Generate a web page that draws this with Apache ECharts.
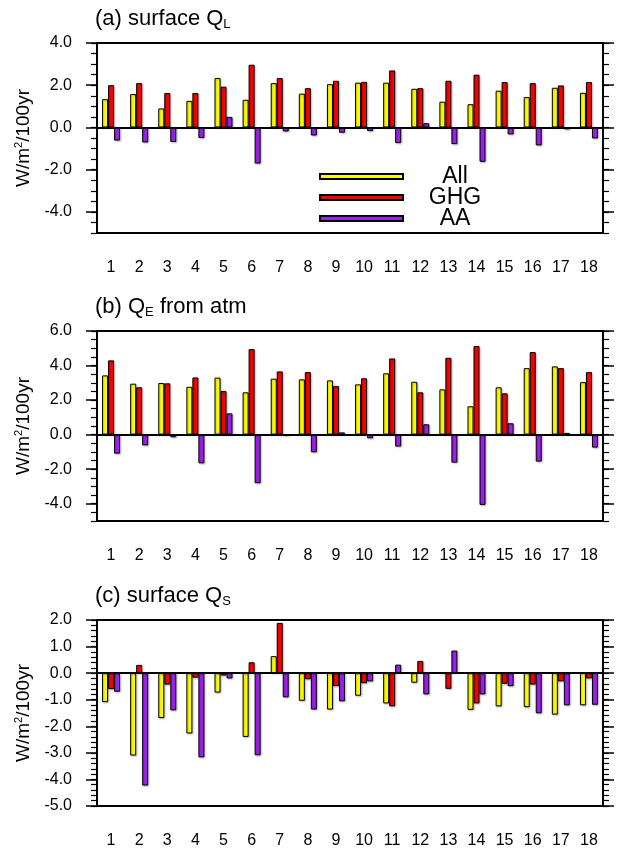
<!DOCTYPE html>
<html>
<head>
<meta charset="utf-8">
<script src="https://cdn.jsdelivr.net/npm/echarts@6/dist/echarts.min.js"></script>
<style>
html,body{margin:0;padding:0;background:#fff;}
#chart{width:619px;height:849px;}
</style>
</head>
<body>
<div id="chart"></div>
<script>
// ---- data ----
var categories = ['1','2','3','4','5','6','7','8','9','10','11','12','13','14','15','16','17','18'];
var seriesNames = ['All', 'GHG', 'AA'];

// (a) surface Q_L
var qlAll = [1.34, 1.58, 0.90, 1.26, 2.34, 1.31, 2.10, 1.60, 2.05, 2.12, 2.12, 1.83, 1.22, 1.10, 1.74, 1.44, 1.88, 1.64];
var qlGHG = [2.00, 2.10, 1.63, 1.63, 1.93, 2.97, 2.34, 1.86, 2.21, 2.16, 2.70, 1.86, 2.21, 2.50, 2.15, 2.10, 1.99, 2.15];
var qlAA  = [-0.62, -0.71, -0.69, -0.50, 0.50, -1.71, -0.19, -0.38, -0.25, -0.17, -0.74, 0.20, -0.79, -1.63, -0.33, -0.85, -0.09, -0.52];

// (b) Q_E from atm
var qeAll = [3.43, 2.95, 2.99, 2.77, 3.30, 2.45, 3.24, 3.20, 3.14, 2.91, 3.55, 3.06, 2.62, 1.64, 2.74, 3.85, 3.95, 3.04];
var qeGHG = [4.30, 2.74, 2.97, 3.31, 2.52, 4.95, 3.66, 3.62, 2.81, 3.26, 4.41, 2.45, 4.45, 5.13, 2.39, 4.78, 3.85, 3.62];
var qeAA  = [-1.10, -0.62, -0.15, -1.66, 1.23, -2.81, -0.08, -1.02, 0.13, -0.21, -0.69, 0.60, -1.62, -4.07, 0.66, -1.56, 0.10, -0.75];

// (c) surface Q_S
var qsAll = [-1.09, -3.10, -1.69, -2.27, -0.73, -2.40, 0.64, -1.04, -1.37, -0.85, -1.14, -0.36, 0.00, -1.38, -1.25, -1.28, -1.56, -1.21];
var qsGHG = [-0.60, 0.31, -0.43, -0.17, -0.09, 0.41, 1.89, -0.23, -0.49, -0.38, -1.25, 0.46, -0.59, -1.14, -0.40, -0.43, -0.31, -0.20];
var qsAA  = [-0.70, -4.23, -1.40, -3.17, -0.20, -3.09, -0.91, -1.37, -1.06, -0.31, 0.32, -0.80, 0.85, -0.80, -0.49, -1.51, -1.21, -1.19];

// tick labels
var ticksA = [-4, -2, 0, 2, 4];
var ticksB = [-4, -2, 0, 2, 4, 6];
var ticksC = [-5, -4, -3, -2, -1, 0, 1, 2];

// ---- styling ----
var FONT = 'Liberation Sans';
var colors = ['#FFFF00', '#FF0000', '#A020F0'];

function range(min, max, step) {
  var out = [];
  var n = Math.round((max - min) / step);
  for (var i = 0; i <= n; i++) out.push(+(min + i * step).toFixed(4));
  return out;
}

var panels = [
  { top: 43, height: 190, min: -5, max: 4, majors: ticksA, minorStep: 0.5, data: [qlAll, qlGHG, qlAA],
    title: '{m|(a) surface Q}{s|L}', titleTop: 6 },
  { top: 331, height: 190, min: -5, max: 6, majors: ticksB, minorStep: 0.5, data: [qeAll, qeGHG, qeAA],
    title: '{m|(b) Q}{s|E}{m| from atm}', titleTop: 294 },
  { top: 620, height: 189, min: -5, max: 2, majors: ticksC, minorStep: 0.2, data: [qsAll, qsGHG, qsAA],
    title: '{m|(c) surface Q}{s|S}', titleTop: 583 }
];

var grids = [], xAxes = [], yAxes = [], series = [], titles = [];
var lineStyle = { color: '#000', width: 2 };

panels.forEach(function (p, i) {
  grids.push({ left: 97, right: 16, top: p.top, height: p.height, containLabel: false });
  titles.push({
    text: p.title, left: 95, top: p.titleTop, padding: 0,
    textStyle: {
      fontFamily: FONT, color: '#000', fontWeight: 'normal',
      rich: {
        m: { fontFamily: FONT, fontSize: 22, lineHeight: 25, color: '#000', fontWeight: 'normal' },
        s: { fontFamily: FONT, fontSize: 13, lineHeight: 13, color: '#000', fontWeight: 'normal', verticalAlign: 'bottom' }
      }
    }
  });
  // bottom x axis
  xAxes.push({
    type: 'category', gridIndex: i, position: 'bottom', data: categories,
    axisLine: { onZero: false, lineStyle: lineStyle },
    axisTick: { alignWithLabel: true, length: 11, inside: false, lineStyle: { color: '#000', width: 1.5 } },
    axisLabel: { fontFamily: FONT, fontSize: 16, color: '#000', margin: 27, interval: 0 },
    splitLine: { show: false }
  });
  // top x axis
  xAxes.push({
    type: 'category', gridIndex: i, position: 'top', data: categories,
    axisLine: { onZero: false, lineStyle: lineStyle },
    axisTick: { alignWithLabel: true, length: 11, inside: false, lineStyle: { color: '#000', width: 1.5 } },
    axisLabel: { show: false },
    splitLine: { show: false }
  });
  var minors = range(p.min, p.max, p.minorStep);
  var base = { type: 'value', gridIndex: i, min: p.min, max: p.max, interval: 1, splitLine: { show: false } };
  // left major (labels)
  yAxes.push(Object.assign({}, base, {
    position: 'left',
    name: '{n|W/m}{sup|2}{n|/100yr}', nameLocation: 'middle', nameGap: 62, nameRotate: 90,
    nameTextStyle: {
      fontFamily: FONT, color: '#000',
      rich: {
        n: { fontFamily: FONT, fontSize: 19, lineHeight: 22, color: '#000' },
        sup: { fontFamily: FONT, fontSize: 11, lineHeight: 12, color: '#000', verticalAlign: 'top' }
      }
    },
    axisLine: { show: true, onZero: false, lineStyle: lineStyle },
    axisTick: { show: true, length: 11, inside: false, customValues: p.majors, lineStyle: { color: '#000', width: 1.5 } },
    axisLabel: { show: true, customValues: p.majors, fontFamily: FONT, fontSize: 16, color: '#000', margin: 25,
      formatter: function (v) { return v.toFixed(1); } }
  }));
  // left minor ticks
  yAxes.push(Object.assign({}, base, {
    position: 'left',
    axisLine: { show: false, onZero: false },
    axisTick: { show: true, length: 6, inside: false, customValues: minors, lineStyle: { color: '#000', width: 1.2 } },
    axisLabel: { show: false }
  }));
  // right major
  yAxes.push(Object.assign({}, base, {
    position: 'right',
    axisLine: { show: true, onZero: false, lineStyle: lineStyle },
    axisTick: { show: true, length: 11, inside: false, customValues: p.majors, lineStyle: { color: '#000', width: 1.5 } },
    axisLabel: { show: false }
  }));
  // right minor
  yAxes.push(Object.assign({}, base, {
    position: 'right',
    axisLine: { show: false, onZero: false },
    axisTick: { show: true, length: 6, inside: false, customValues: minors, lineStyle: { color: '#000', width: 1.2 } },
    axisLabel: { show: false }
  }));

  p.data.forEach(function (arr, k) {
    var s = {
      type: 'bar', name: seriesNames[k], xAxisIndex: 2 * i, yAxisIndex: 4 * i, data: arr,
      barWidth: 6, barGap: '0%',
      itemStyle: { color: colors[k], borderColor: '#000', borderWidth: 1,
        shadowColor: 'rgba(0,0,0,0.25)', shadowBlur: 2, shadowOffsetX: 1, shadowOffsetY: 1 },
      emphasis: { disabled: true },
      animation: false
    };
    if (k === 2) {
      s.markLine = {
        silent: true, symbol: ['none', 'none'], animation: false,
        label: { show: false },
        lineStyle: { color: '#000', width: 2, type: 'solid' },
        data: [{ yAxis: 0 }]
      };
    }
    series.push(s);
  });
});

var chart = echarts.init(document.getElementById('chart'), null, { renderer: 'canvas' });
chart.setOption({
  backgroundColor: '#fff',
  animation: false,
  title: titles,
  legend: {
    data: seriesNames, orient: 'vertical', left: 319, top: 165, padding: 0,
    icon: 'rect', itemWidth: 83, itemHeight: 5, itemGap: -2,
    selectedMode: false,
    formatter: '{c|{name}}',
    textStyle: {
      fontFamily: FONT, fontSize: 23, color: '#000', lineHeight: 16,
      rich: { c: { fontFamily: FONT, fontSize: 23, lineHeight: 16, width: 94, align: 'center', color: '#000' } }
    }
  },
  grid: grids,
  xAxis: xAxes,
  yAxis: yAxes,
  series: series
});
</script>
</body>
</html>
